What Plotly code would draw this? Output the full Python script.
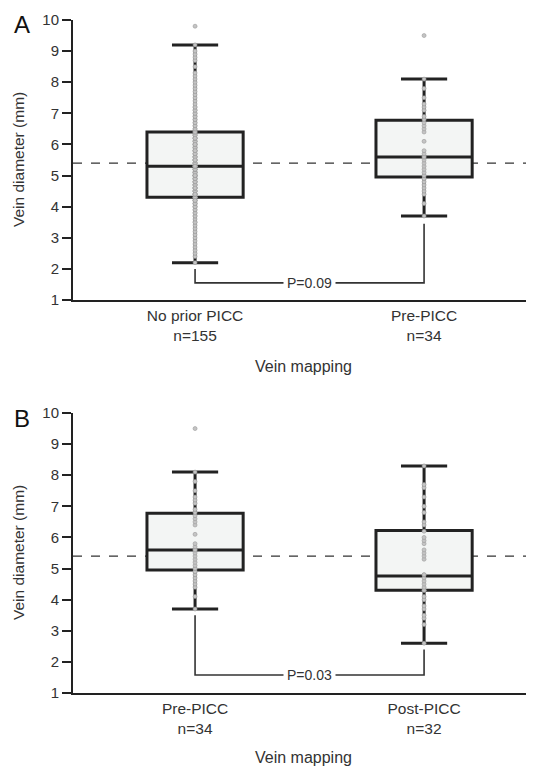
import plotly.graph_objects as go

# ---------------- data ----------------
panel_a_groups = ["No prior PICC", "Pre-PICC"]
panel_a_ns = [155, 34]
panel_b_groups = ["Pre-PICC", "Post-PICC"]
panel_b_ns = [34, 32]

# box statistics (mm)
a_q1 = [4.3, 4.95]
a_median = [5.3, 5.6]
a_q3 = [6.4, 6.78]
a_low = [2.2, 3.7]
a_high = [9.2, 8.1]

b_q1 = [4.95, 4.3]
b_median = [5.6, 4.76]
b_q3 = [6.78, 6.22]
b_low = [3.7, 2.6]
b_high = [8.1, 8.3]

reference_line = 5.4  # dashed horizontal line

no_prior_picc = [
    2.2, 2.4, 2.5, 2.6, 2.7, 2.8, 2.9, 3.0, 3.1, 3.2,
    3.3, 3.4, 3.5, 3.5, 3.6, 3.7, 3.7, 3.8, 3.8, 3.9,
    3.9, 4.0, 4.0, 4.0, 4.1, 4.1, 4.1, 4.2, 4.2, 4.2,
    4.3, 4.3, 4.3, 4.3, 4.4, 4.4, 4.4, 4.4, 4.5, 4.5,
    4.5, 4.5, 4.6, 4.6, 4.6, 4.6, 4.7, 4.7, 4.7, 4.7,
    4.8, 4.8, 4.8, 4.8, 4.9, 4.9, 4.9, 4.9, 5.0, 5.0,
    5.0, 5.0, 5.0, 5.1, 5.1, 5.1, 5.1, 5.2, 5.2, 5.2,
    5.2, 5.3, 5.3, 5.3, 5.3, 5.3, 5.4, 5.4, 5.4, 5.4,
    5.5, 5.5, 5.5, 5.5, 5.6, 5.6, 5.6, 5.6, 5.7, 5.7,
    5.7, 5.8, 5.8, 5.8, 5.9, 5.9, 5.9, 6.0, 6.0, 6.0,
    6.1, 6.1, 6.1, 6.2, 6.2, 6.2, 6.3, 6.3, 6.3, 6.4,
    6.4, 6.4, 6.5, 6.5, 6.6, 6.6, 6.7, 6.7, 6.8, 6.8,
    6.9, 6.9, 7.0, 7.0, 7.1, 7.1, 7.2, 7.2, 7.3, 7.4,
    7.5, 7.6, 7.7, 7.8, 7.9, 8.0, 8.1, 8.2, 8.3, 8.5,
    8.7, 8.8, 8.9, 9.0, 9.2, 9.8, 5.0, 5.3, 5.5, 5.8,
    4.2, 4.6, 6.0, 6.2, 4.4,
]
pre_picc = [
    3.7, 4.1, 4.4, 4.5, 4.6, 4.7, 4.8, 4.9, 4.9, 5.0,
    5.0, 5.1, 5.2, 5.3, 5.4, 5.5, 5.6, 5.6, 5.7, 5.8,
    6.1, 6.4, 6.5, 6.6, 6.7, 6.8, 6.9, 7.1, 7.2, 7.3,
    7.5, 7.8, 8.1, 9.5,
]
post_picc = [
    2.6, 3.2, 3.4, 3.5, 3.7, 3.8, 4.0, 4.1, 4.3, 4.3,
    4.4, 4.5, 4.6, 4.7, 4.8, 4.8, 5.3, 5.4, 5.5, 5.6,
    5.8, 5.9, 6.0, 6.2, 6.4, 6.5, 6.8, 7.0, 7.3, 7.6,
    7.7, 8.3,
]

# comparison brackets: [left leg top, right leg top, bar level], p-value text
a_bracket = [2.0, 3.45, 1.55]
a_pvalue = "P=0.09"
b_bracket = [3.5, 2.4, 1.58]
b_pvalue = "P=0.03"

# ---------------- style ----------------
FONT = "Liberation Sans, Arial, sans-serif"
TXT = "#333333"
DARK = "#222222"
BOXFILL = "#f3f5f4"
OFF = 8  # default page body margin
W, H = 534 - OFF, 766 - OFF
ML, MR, MT, MB = 73 - OFF, 0, 20 - OFF, 73
pw, ph = W - ML - MR, H - MT - MB


def py(px):  # page pixel y -> paper y
    return (H - MB - (px - OFF)) / ph


def pxx(px):  # page pixel x -> paper x
    return (px - OFF - ML) / pw


fig = go.Figure()


def add_panel(xa, ya, groups, q1, med, q3, lo, hi, point_sets):
    for i in range(len(groups)):
        fig.add_trace(go.Box(
            x=[i], q1=[q1[i]], median=[med[i]], q3=[q3[i]],
            lowerfence=[lo[i]], upperfence=[hi[i]],
            width=0.42, whiskerwidth=0.48,
            fillcolor=BOXFILL, line=dict(color=DARK, width=3),
            boxpoints=False, showlegend=False, hoverinfo="skip",
            xaxis=xa, yaxis=ya,
        ))
        fig.add_trace(go.Scatter(
            x=[i] * len(point_sets[i]), y=point_sets[i], mode="markers",
            marker=dict(size=4, color="#c4c4c4", line=dict(color="#9a9a9a", width=0.6)),
            showlegend=False, hoverinfo="skip", xaxis=xa, yaxis=ya,
        ))


add_panel("x", "y", panel_a_groups, a_q1, a_median, a_q3, a_low, a_high,
          [no_prior_picc, pre_picc])
add_panel("x2", "y2", panel_b_groups, b_q1, b_median, b_q3, b_low, b_high,
          [pre_picc, post_picc])

shapes = []
annotations = []
for xr, yr, br, pv in [("x", "y", a_bracket, a_pvalue), ("x2", "y2", b_bracket, b_pvalue)]:
    shapes.append(dict(type="line", xref=xr + " domain", yref=yr, x0=0, x1=1,
                       y0=reference_line, y1=reference_line, layer="below",
                       line=dict(color="#333333", width=1.3, dash="dash")))
    shapes.append(dict(type="path", xref=xr, yref=yr,
                       path=f"M 0 {br[0]} L 0 {br[2]} L 1 {br[2]} L 1 {br[1]}",
                       line=dict(color="#333333", width=1.6), layer="above"))
    annotations.append(dict(xref=xr, yref=yr, x=0.5, y=br[2], text=pv,
                            xanchor="center", yanchor="middle",
                            showarrow=False, bgcolor="white", borderpad=3,
                            font=dict(size=14, color=TXT, family=FONT)))

# panel letters and titles
for letter, ypx in [("A", 25), ("B", 418)]:
    annotations.append(dict(xref="paper", yref="paper", x=pxx(22), y=py(ypx),
                            xanchor="center", yanchor="middle",
                            text=letter, showarrow=False,
                            font=dict(size=24, color="#111111", family=FONT)))
for ypx in [160, 553]:
    annotations.append(dict(xref="paper", yref="paper", x=pxx(18), y=py(ypx),
                            xanchor="center", yanchor="middle",
                            text="Vein diameter (mm)", textangle=-90, showarrow=False,
                            font=dict(size=15.5, color=TXT, family=FONT)))
for ypx in [367, 757]:
    annotations.append(dict(xref="paper", yref="paper", x=pxx(303), y=py(ypx),
                            xanchor="center", yanchor="middle",
                            text="Vein mapping", showarrow=False,
                            font=dict(size=16, color=TXT, family=FONT)))

xcommon = dict(range=[-0.533, 1.48], showgrid=False, zeroline=False, automargin=False,
               showline=True, linecolor=DARK, linewidth=2, ticks="",
               tickfont=dict(size=15.5, color=TXT, family=FONT), tickvals=[0, 1])
ycommon = dict(range=[1, 10], showgrid=False, zeroline=False, automargin=False,
               showline=True, linecolor=DARK, linewidth=2, ticks="outside",
               ticklen=9, tickwidth=2, tickcolor=DARK, tickvals=list(range(1, 11)),
               tickfont=dict(size=15, color=TXT, family=FONT))

fig.update_layout(
    width=W, height=H, margin=dict(l=ML, r=MR, t=MT, b=MB, autoexpand=False),
    paper_bgcolor="white", plot_bgcolor="white",
    xaxis=dict(**xcommon, anchor="y",
               ticktext=[f"{g}<br>n={n}" for g, n in zip(panel_a_groups, panel_a_ns)]),
    yaxis=dict(**ycommon, anchor="x", domain=[py(300), py(20)]),
    xaxis2=dict(**xcommon, anchor="y2",
                ticktext=[f"{g}<br>n={n}" for g, n in zip(panel_b_groups, panel_b_ns)]),
    yaxis2=dict(**ycommon, anchor="x2", domain=[py(693), py(413)]),
    shapes=shapes, annotations=annotations,
    font=dict(family=FONT, color=TXT),
)

fig.write_html("out.html")
